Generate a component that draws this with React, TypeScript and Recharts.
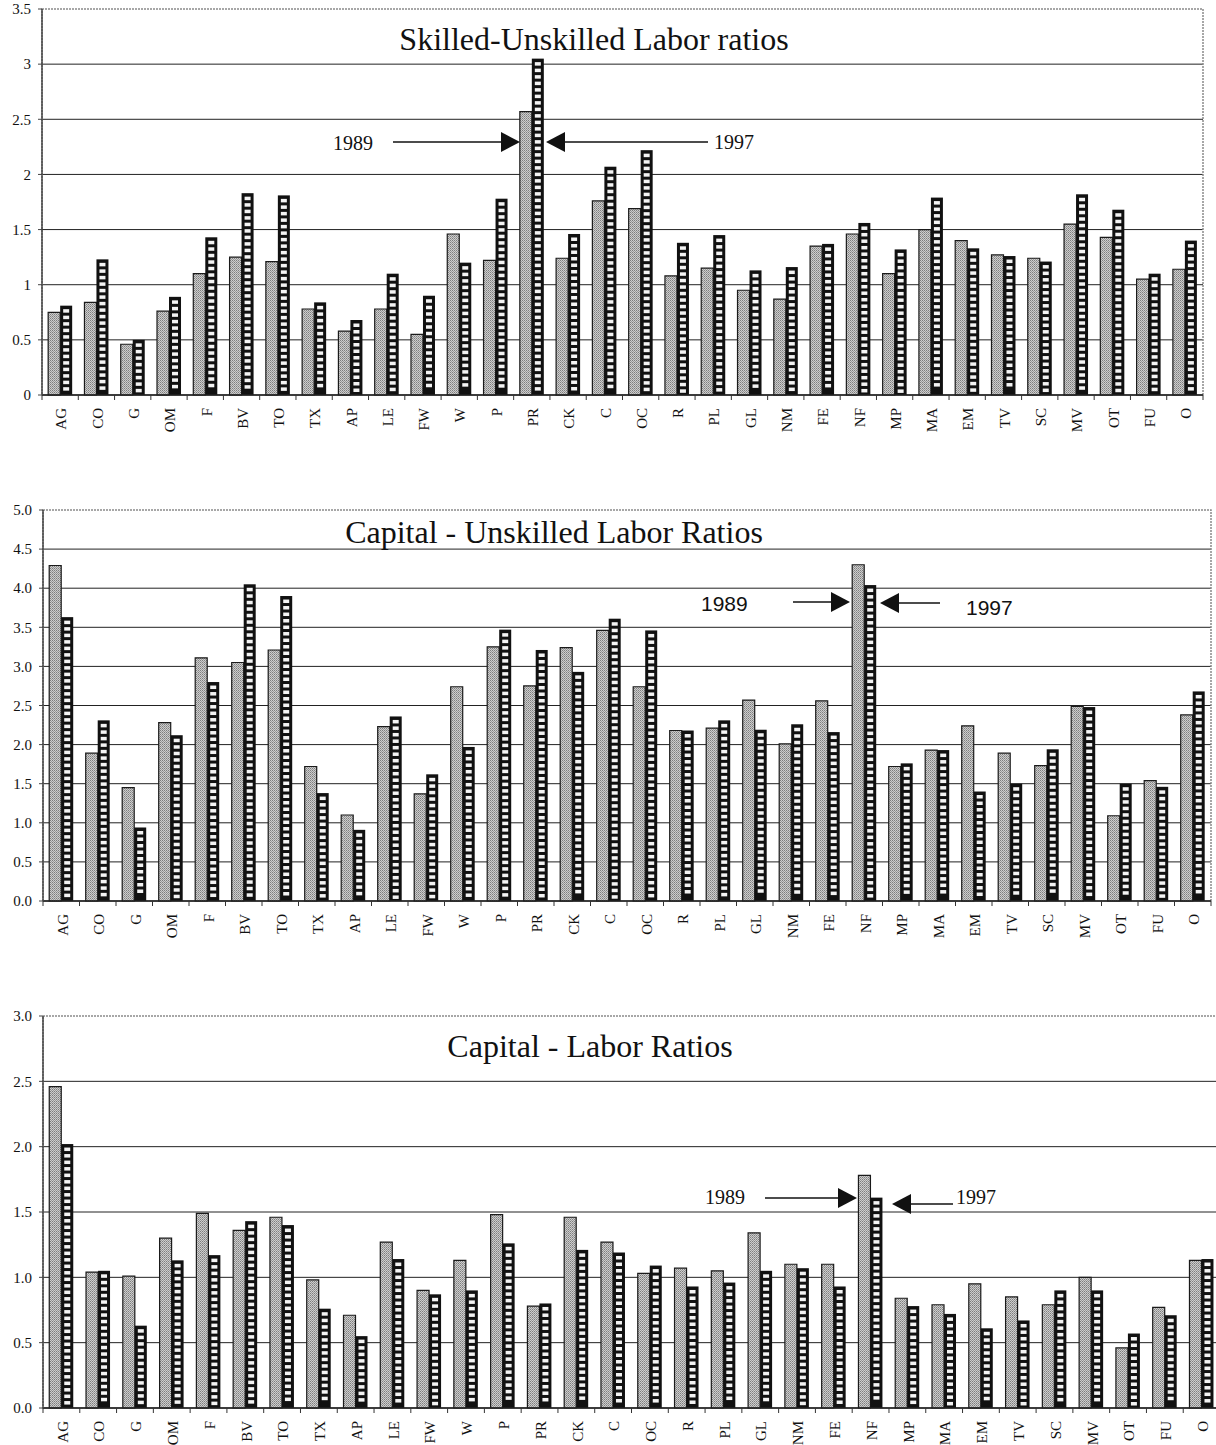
import React from 'react';
import { BarChart, Bar, XAxis, YAxis, CartesianGrid, ReferenceArea } from 'recharts';

const sectors = ['AG', 'CO', 'G', 'OM', 'F', 'BV', 'TO', 'TX', 'AP', 'LE', 'FW', 'W', 'P', 'PR', 'CK', 'C',
  'OC', 'R', 'PL', 'GL', 'NM', 'FE', 'NF', 'MP', 'MA', 'EM', 'TV', 'SC', 'MV', 'OT', 'FU', 'O'];

// Skilled-Unskilled Labor ratios
const skilled1989 = [0.75, 0.84, 0.46, 0.76, 1.10, 1.25, 1.21, 0.78, 0.58, 0.78, 0.55, 1.46, 1.22, 2.57, 1.24, 1.76,
  1.69, 1.08, 1.15, 0.95, 0.87, 1.35, 1.46, 1.10, 1.50, 1.40, 1.27, 1.24, 1.55, 1.43, 1.05, 1.14];
const skilled1997 = [0.81, 1.23, 0.50, 0.89, 1.43, 1.83, 1.81, 0.84, 0.68, 1.10, 0.90, 1.20, 1.78, 3.05, 1.46, 2.07,
  2.22, 1.38, 1.45, 1.13, 1.16, 1.37, 1.56, 1.32, 1.79, 1.33, 1.26, 1.21, 1.82, 1.68, 1.10, 1.40];

// Capital - Unskilled Labor Ratios
const capUnskilled1989 = [4.29, 1.89, 1.45, 2.28, 3.11, 3.05, 3.21, 1.72, 1.10, 2.23, 1.37, 2.74, 3.25, 2.75, 3.24, 3.46,
  2.74, 2.18, 2.21, 2.57, 2.01, 2.56, 4.30, 1.72, 1.93, 2.24, 1.89, 1.73, 2.49, 1.09, 1.54, 2.38];
const capUnskilled1997 = [3.63, 2.31, 0.94, 2.12, 2.80, 4.05, 3.90, 1.38, 0.91, 2.36, 1.62, 1.97, 3.47, 3.21, 2.93, 3.61,
  3.46, 2.18, 2.31, 2.19, 2.26, 2.16, 4.04, 1.76, 1.93, 1.40, 1.50, 1.94, 2.48, 1.50, 1.46, 2.68];

// Capital - Labor Ratios
const capLabor1989 = [2.46, 1.04, 1.01, 1.30, 1.49, 1.36, 1.46, 0.98, 0.71, 1.27, 0.90, 1.13, 1.48, 0.78, 1.46, 1.27,
  1.03, 1.07, 1.05, 1.34, 1.10, 1.10, 1.78, 0.84, 0.79, 0.95, 0.85, 0.79, 1.00, 0.46, 0.77, 1.13];
const capLabor1997 = [2.02, 1.05, 0.63, 1.13, 1.17, 1.43, 1.40, 0.76, 0.55, 1.14, 0.87, 0.90, 1.26, 0.80, 1.21, 1.19,
  1.09, 0.93, 0.96, 1.05, 1.07, 0.93, 1.61, 0.78, 0.72, 0.61, 0.67, 0.90, 0.90, 0.57, 0.71, 1.14];

const skilledTicks = [0, 0.5, 1, 1.5, 2, 2.5, 3, 3.5];
const capUnskilledTicks = [0, 0.5, 1, 1.5, 2, 2.5, 3, 3.5, 4, 4.5, 5];
const capLaborTicks = [0, 0.5, 1, 1.5, 2, 2.5, 3];

const serif = '"Liberation Serif", "Times New Roman", serif';
const sans = '"Liberation Sans", Arial, sans-serif';

const buildRows = (a: number[], b: number[]) =>
  sectors.map((sector, i) => ({ sector, y1989: a[i], y1997: b[i] }));

// 1997 bars: heavy black frame with a column of white cells
const CheckBar = (props: any) => {
  const { x, y, width, height } = props;
  if (!height || height <= 0) return null;
  const cells = [];
  const inset = 3;
  for (let cy = y + 3.5; cy + 3.5 <= y + height - 2; cy += 6.5) {
    cells.push(<rect key={cy} x={x + inset} y={cy} width={width - inset * 2} height={3.5} fill="#f4f4f4" />);
  }
  return (
    <g>
      <rect x={x} y={y} width={width} height={height} fill="#111" />
      {cells}
    </g>
  );
};

const SectorTick = ({ x, y, payload, index, band }: any) => (
  <g>
    <line x1={x + band / 2} x2={x + band / 2} y1={y} y2={y + 5} stroke="#333" />
    {index === 0 && <line x1={x - band / 2} x2={x - band / 2} y1={y} y2={y + 5} stroke="#333" />}
    <text
      transform={`translate(${x + 1},${y + 13}) rotate(-90)`}
      textAnchor="end"
      dy="0.35em"
      fontFamily={serif}
      fontSize={15}
      fill="#111"
    >
      {payload.value}
    </text>
  </g>
);

const ValueTick = ({ x, y, payload, fmt }: any) => (
  <text x={x} y={y} dy="0.35em" textAnchor="end" fontFamily={serif} fontSize={15} fill="#111">
    {fmt(payload.value)}
  </text>
);

const Arrow = ({ tail, tip, y }: { tail: number; tip: number; y: number }) => {
  const dir = tip > tail ? 1 : -1;
  const base = tip - dir * 19;
  return (
    <g>
      <line x1={tail} x2={base} y1={y} y2={y} stroke="#111" strokeWidth={1.5} />
      <polygon points={`${tip},${y} ${base},${y - 10} ${base},${y + 10}`} fill="#111" />
    </g>
  );
};

interface PanelProps {
  top: number;
  width: number;
  height: number;
  margin: { top: number; right: number; left: number; bottom: number };
  yWidth: number;
  xHeight: number;
  ticks: number[];
  fmt: (v: number) => string;
  rows: { sector: string; y1989: number; y1997: number }[];
  children?: React.ReactNode;
}

const Panel = ({ top, width, height, margin, yWidth, xHeight, ticks, fmt, rows, children }: PanelProps) => {
  const max = ticks[ticks.length - 1];
  const band = (width - yWidth - margin.left - margin.right) / sectors.length;
  return (
    <div style={{ position: 'absolute', left: 0, top, width, height }}>
      <BarChart width={width} height={height} data={rows} margin={margin} barGap={0} barCategoryGap="17%">
        <CartesianGrid vertical={false} stroke="#222" horizontalValues={ticks.slice(0, -1)} />
        <ReferenceArea y1={0} y2={max} fill="none" stroke="#8a8a8a" strokeWidth={1.5} strokeDasharray="2 1" />
        <XAxis
          dataKey="sector"
          interval={0}
          tickLine={false}
          tickSize={0}
          tickMargin={0}
          height={xHeight}
          axisLine={{ stroke: '#222', strokeWidth: 1.5 }}
          tick={(p: any) => <SectorTick {...p} band={band} />}
        />
        <YAxis
          type="number"
          domain={[0, max]}
          ticks={ticks}
          width={yWidth}
          tickSize={4}
          tickMargin={7}
          axisLine={{ stroke: '#444', strokeWidth: 1.5 }}
          tickLine={{ stroke: '#444' }}
          tick={(p: any) => <ValueTick {...p} fmt={fmt} />}
        />
        <Bar dataKey="y1989" fill="url(#stipple)" stroke="#1a1a1a" strokeWidth={1.2} isAnimationActive={false} />
        <Bar dataKey="y1997" shape={CheckBar} isAnimationActive={false} />
      </BarChart>
      <svg
        width={width}
        height={height}
        style={{ position: 'absolute', left: 0, top: 0, pointerEvents: 'none' }}
      >
        {children}
      </svg>
    </div>
  );
};

export default function App() {
  return (
    <div style={{ position: 'absolute', left: 0, top: 0, width: 1216, height: 1445, overflow: 'hidden', background: '#fff' }}>
      <svg width={0} height={0} style={{ position: 'absolute' }}>
        <defs>
          <pattern id="stipple" width={2} height={2} patternUnits="userSpaceOnUse">
            <rect width={2} height={2} fill="#cdcdcd" />
            <rect width={1} height={1} fill="#7e7e7e" />
            <rect x={1} y={1} width={1} height={1} fill="#9a9a9a" />
          </pattern>
        </defs>
      </svg>

      <Panel
        top={0}
        width={1216}
        height={440}
        margin={{ top: 9, right: 13, left: 0, bottom: 0 }}
        yWidth={42}
        xHeight={45}
        ticks={skilledTicks}
        fmt={(v) => String(v)}
        rows={buildRows(skilled1989, skilled1997)}
      >
        <text x={594} y={50} textAnchor="middle" fontFamily={serif} fontSize={32} fill="#111">
          Skilled-Unskilled Labor ratios
        </text>
        <text x={333} y={150} fontFamily={serif} fontSize={20} fill="#111">1989</text>
        <Arrow tail={393} tip={520} y={142} />
        <Arrow tail={708} tip={546} y={142} />
        <text x={714} y={149} fontFamily={serif} fontSize={20} fill="#111">1997</text>
      </Panel>

      <Panel
        top={500}
        width={1216}
        height={445}
        margin={{ top: 10, right: 5, left: 0, bottom: 0 }}
        yWidth={43}
        xHeight={44}
        ticks={capUnskilledTicks}
        fmt={(v) => v.toFixed(1)}
        rows={buildRows(capUnskilled1989, capUnskilled1997)}
      >
        <text x={554} y={43} textAnchor="middle" fontFamily={serif} fontSize={32} fill="#111">
          Capital - Unskilled Labor Ratios
        </text>
        <text x={701} y={111} fontFamily={sans} fontSize={21} fill="#111">1989</text>
        <Arrow tail={793} tip={850} y={102} />
        <Arrow tail={940} tip={880} y={103} />
        <text x={966} y={115} fontFamily={sans} fontSize={21} fill="#111">1997</text>
      </Panel>

      <Panel
        top={1005}
        width={1220}
        height={440}
        margin={{ top: 11, right: 0, left: 0, bottom: 0 }}
        yWidth={43}
        xHeight={37}
        ticks={capLaborTicks}
        fmt={(v) => v.toFixed(1)}
        rows={buildRows(capLabor1989, capLabor1997)}
      >
        <text x={590} y={52} textAnchor="middle" fontFamily={serif} fontSize={32} fill="#111">
          Capital - Labor Ratios
        </text>
        <text x={705} y={199} fontFamily={serif} fontSize={20} fill="#111">1989</text>
        <Arrow tail={765} tip={857} y={193} />
        <Arrow tail={953} tip={892} y={199} />
        <text x={956} y={199} fontFamily={serif} fontSize={20} fill="#111">1997</text>
      </Panel>
    </div>
  );
}
